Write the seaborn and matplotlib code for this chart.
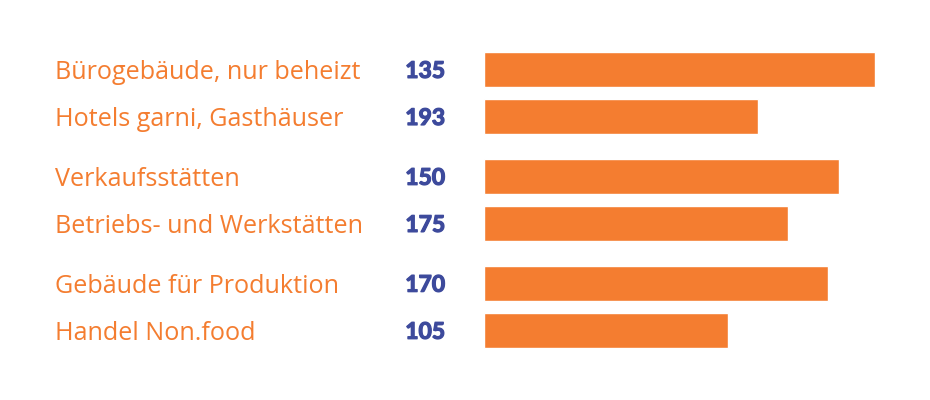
import matplotlib
matplotlib.use("Agg")
import matplotlib.pyplot as plt
import matplotlib.transforms as mtransforms
import matplotlib.patheffects as pe
import seaborn as sns
import pandas as pd

# data
labels = ["Bürogebäude, nur beheizt", "Hotels garni, Gasthäuser",
          "Verkaufsstätten", "Betriebs- und Werkstätten",
          "Gebäude für Produktion", "Handel Non.food"]
numbers = [135, 193, 150, 175, 170, 105]
bar_len = [391, 274, 355, 304, 344, 244]   # bar lengths (arbitrary units)
group = [0, 0, 1, 1, 2, 2]

orange = "#F47D30"
blue = "#3D4A9C"

sns.set_theme(style="white")
plt.rcParams["font.family"] = ["Open Sans", "DejaVu Sans"]

# rows come in pairs with a small gap between pairs
df = pd.DataFrame({"label": labels, "num": numbers, "len": bar_len, "group": group})
df["pos"] = df.index + df["group"] * 0.27

fig = plt.figure(figsize=(9.3, 4.0), dpi=100)
ax = fig.add_axes([484 / 930, 0, 446 / 930, 1])
sns.barplot(data=df, x="len", y="pos", orient="h", native_scale=True,
            color=orange, saturation=1, width=0.75, ax=ax)
ax.set_xlim(0, 446)
ax.set_ylim(7.02, -1.473)
ax.axis("off")

trans = mtransforms.blended_transform_factory(fig.transFigure, ax.transData)
for _, r in df.iterrows():
    ax.text(55 / 930, r["pos"], r["label"], transform=trans, ha="left",
            va="center_baseline", fontsize=18.1, color=orange, clip_on=False)
    # a thin stroke makes the numbers look heavier, like the original
    ax.text(445 / 930, r["pos"], str(r["num"]), transform=trans, ha="right",
            va="center_baseline", fontsize=16.5, fontweight="bold", color=blue,
            family=["Lato", "DejaVu Sans"], clip_on=False,
            path_effects=[pe.withStroke(linewidth=0.9, foreground=blue)])

fig.savefig("out.png", dpi=100, facecolor="white")
